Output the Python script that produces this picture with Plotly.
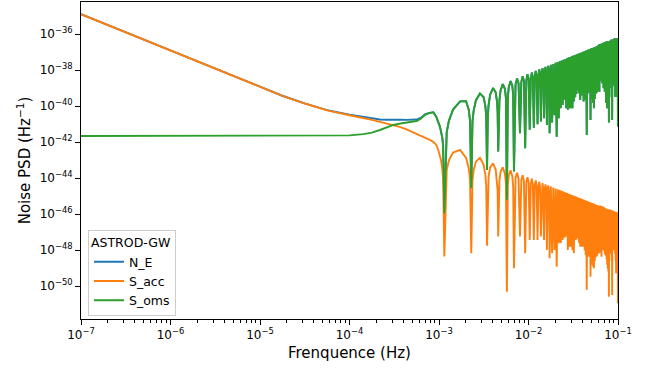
import numpy as np
import plotly.graph_objects as go

# ---------------- data (PSD stored as log10 exponents) ----------------
# smooth low-frequency part (Hz)
low_freq = [1e-7, 3.162e-7, 1e-6, 3.162e-6, 1e-5, 1.778e-5, 3.162e-5, 5.623e-5, 1e-4, 1.426e-4,
            1.778e-4, 2.188e-4, 2.630e-4, 3.090e-4, 3.715e-4, 4.345e-4, 5.012e-4, 5.623e-4, 6.310e-4, 6.966e-4,
            7.762e-4, 8.630e-4, 9.333e-4, 9.817e-4, 1.023e-3, 1.052e-3, 1.089e-3, 1.112e-3]
low_acc = [-34.89, -35.89, -36.89, -37.90, -38.93, -39.42, -39.85, -40.23, -40.50, -40.64,
           -40.76, -40.87, -40.96, -41.04, -41.16, -41.28, -41.41, -41.52, -41.63, -41.73,
           -41.85, -41.98, -42.15, -42.43, -42.75, -42.98, -43.50, -44.07]
low_oms = [-41.65, -41.65, -41.65, -41.65, -41.65, -41.65, -41.65, -41.645, -41.62, -41.55,
           -41.47, -41.32, -41.18, -41.04, -40.96, -40.91, -40.87, -40.82, -40.68, -40.48,
           -40.38, -40.34, -40.60, -40.85, -41.13, -41.40, -41.75, -42.20]

# frequencies of the response notches (mHz)
dip_freq_mhz = [1.147, 2.294, 3.441, 4.588, 5.735, 6.882, 8.029, 9.176, 10.32, 11.47,
                12.62, 13.76, 14.91, 16.06, 17.21, 18.35, 19.50, 20.65, 21.79, 22.94,
                24.09, 25.23, 26.38, 27.53, 28.68, 29.82, 30.97, 32.12, 33.26, 34.41,
                35.56, 36.70, 37.85, 39.00, 40.15, 41.29, 42.44, 43.59, 44.73, 45.88,
                47.03, 48.17, 49.32, 50.47, 51.62, 52.76, 53.91, 55.06, 56.20, 57.35,
                58.50, 59.64, 60.79, 61.94, 63.09, 64.23, 65.38, 66.53, 67.67, 68.82,
                69.97, 71.11, 72.26, 73.41, 74.56, 75.70, 76.85, 78.00, 79.14, 80.29,
                81.44, 82.58, 83.73, 84.88, 86.03, 87.17, 88.32, 89.47, 90.61, 91.76,
                92.91, 94.05, 95.20, 96.35, 97.50, 98.64, 99.79]
dip_oms = [-45.95, -44.56, -43.54, -42.52, -45.20, -43.63, -41.50, -42.34, -41.30, -41.20,
           -41.00, -40.85, -40.67, -41.04, -41.50, -40.90, -40.50, -41.69, -40.67, -40.11,
           -39.93, -39.65, -40.11, -40.20, -40.11, -40.11, -40.11, -39.74, -39.50, -39.30,
           -39.09, -39.28, -39.65, -39.40, -39.28, -39.74, -39.50, -39.65, -41.60, -39.30,
           -39.20, -39.00, -40.76, -39.60, -39.47, -39.80, -40.11, -39.60, -39.30, -39.28,
           -39.20, -39.10, -39.00, -39.19, -38.60, -38.44, -38.60, -38.72, -38.80, -39.00,
           -39.10, -39.19, -39.50, -39.80, -40.00, -40.11, -39.60, -39.30, -40.90, -39.00,
           -38.50, -38.17, -38.50, -39.50, -40.76, -38.80, -38.20, -37.80, -38.30, -38.90,
           -39.47, -39.20, -39.47, -38.80, -38.50, -38.00, -41.13]
dip_acc = [-48.35, -48.16, -47.75, -47.24, -50.30, -49.00, -47.24, -48.17, -47.43, -47.43,
           -47.43, -47.24, -47.43, -47.98, -48.45, -48.17, -47.98, -48.91, -47.61, -47.60,
           -47.43, -47.30, -47.24, -47.98, -47.80, -47.80, -48.00, -48.17, -47.43, -47.40,
           -47.33, -47.60, -47.80, -47.80, -47.80, -47.80, -48.00, -48.26, -50.20, -48.30,
           -48.36, -48.36, -49.47, -48.60, -48.80, -48.90, -49.00, -48.60, -48.40, -48.36,
           -48.30, -48.20, -48.10, -48.17, -48.10, -48.00, -48.36, -48.20, -48.00, -47.98,
           -48.00, -48.20, -48.26, -48.30, -48.50, -48.80, -49.00, -49.20, -50.58, -48.50,
           -48.20, -47.98, -48.20, -48.60, -50.48, -48.50, -48.00, -47.80, -47.60, -47.61,
           -48.20, -48.60, -49.28, -48.60, -48.50, -48.00, -50.94]

# hump maxima between notches (mHz)
peak_freq_mhz = [1.721, 2.868, 4.015, 5.162, 6.309, 7.456, 8.603, 9.750, 10.90, 12.04,
                 13.19, 14.34, 15.48, 16.63, 17.78, 18.93, 20.07, 21.22, 22.37, 23.51,
                 24.66, 25.81, 26.95, 28.10, 29.25, 30.40, 31.54, 32.69, 33.84, 34.98,
                 36.13, 37.28, 38.42, 39.57, 40.72, 41.87, 43.01, 44.16, 45.31, 46.45,
                 47.60, 48.75, 49.89, 51.04, 52.19, 53.34, 54.48, 55.63, 56.78, 57.92,
                 59.07, 60.22, 61.36, 62.51, 63.66, 64.81, 65.95, 67.10, 68.25, 69.39,
                 70.54, 71.69, 72.83, 73.98, 75.13, 76.28, 77.42, 78.57, 79.72, 80.86,
                 82.01, 83.16, 84.30, 85.45, 86.60, 87.75, 88.89, 90.04, 91.19, 92.33,
                 93.48, 94.63, 95.77, 96.92, 98.07, 99.22]
peak_oms = [-39.73, -39.29, -38.99, -38.77, -38.60, -38.46, -38.33, -38.22, -38.13, -38.04,
            -37.96, -37.89, -37.82, -37.76, -37.70, -37.65, -37.59, -37.55, -37.50, -37.46,
            -37.42, -37.38, -37.34, -37.30, -37.27, -37.23, -37.20, -37.17, -37.14, -37.11,
            -37.08, -37.06, -37.03, -37.01, -36.98, -36.96, -36.93, -36.91, -36.89, -36.87,
            -36.84, -36.82, -36.80, -36.78, -36.76, -36.75, -36.73, -36.71, -36.69, -36.67,
            -36.66, -36.64, -36.62, -36.61, -36.59, -36.58, -36.56, -36.55, -36.53, -36.52,
            -36.50, -36.49, -36.48, -36.46, -36.45, -36.44, -36.42, -36.41, -36.40, -36.38,
            -36.37, -36.36, -36.35, -36.34, -36.32, -36.31, -36.30, -36.29, -36.28, -36.27,
            -36.26, -36.25, -36.24, -36.23, -36.22, -36.21]
peak_acc = [-42.43, -42.87, -43.17, -43.39, -43.56, -43.70, -43.83, -43.94, -44.03, -44.12,
            -44.20, -44.27, -44.34, -44.40, -44.46, -44.51, -44.57, -44.61, -44.66, -44.70,
            -44.74, -44.78, -44.82, -44.86, -44.89, -44.93, -44.96, -44.99, -45.02, -45.05,
            -45.08, -45.10, -45.13, -45.15, -45.18, -45.20, -45.23, -45.25, -45.27, -45.29,
            -45.32, -45.34, -45.36, -45.38, -45.40, -45.41, -45.43, -45.45, -45.47, -45.49,
            -45.50, -45.52, -45.54, -45.55, -45.57, -45.58, -45.60, -45.61, -45.63, -45.64,
            -45.66, -45.67, -45.68, -45.70, -45.71, -45.72, -45.74, -45.75, -45.76, -45.78,
            -45.79, -45.80, -45.81, -45.82, -45.84, -45.85, -45.86, -45.87, -45.88, -45.89,
            -45.90, -45.91, -45.92, -45.93, -45.94, -45.95]

# hump shoulders (mHz)
shoulder_freq_mhz = [1.219, 1.290, 1.434, 2.007, 2.151, 2.222,
                     2.366, 2.437, 2.581, 3.154, 3.298, 3.369,
                     3.513, 3.584, 3.728, 4.302, 4.445, 4.517,
                     4.731, 4.875, 5.449, 5.592,
                     5.878, 6.022, 6.595, 6.739,
                     7.169, 7.743, 8.316, 8.890, 9.463, 10.04, 10.61, 11.18,
                     11.76, 12.33, 12.90, 13.48, 14.05, 14.62, 15.20, 15.77, 16.34, 16.92]
shoulder_oms = [-41.45, -40.81, -40.19, -39.72, -40.20, -40.80,
                -40.87, -40.26, -39.68, -39.50, -39.99, -40.57,
                -40.53, -39.92, -39.36, -39.23, -39.73, -40.31,
                -39.68, -39.12, -39.03, -39.53,
                -39.49, -38.94, -38.86, -39.37,
                -38.79, -38.72, -38.66, -38.60, -38.55, -38.50, -38.45, -38.40,
                -38.36, -38.32, -38.28, -38.24, -38.20, -38.17, -38.14, -38.10, -38.07, -38.04]
shoulder_acc = [-43.55, -43.01, -42.57, -42.87, -43.46, -44.07,
                -44.13, -43.56, -43.08, -43.26, -43.83, -44.43,
                -44.47, -43.90, -43.40, -43.53, -44.09, -44.69,
                -44.14, -43.64, -43.73, -44.29,
                -44.33, -43.82, -43.90, -44.45,
                -43.97, -44.04, -44.10, -44.16, -44.21, -44.26, -44.31, -44.36,
                -44.40, -44.44, -44.48, -44.52, -44.56, -44.59, -44.62, -44.66, -44.69, -44.72]

# ---------------- assemble series ----------------
freq = np.concatenate([np.array(low_freq),
                       np.array(dip_freq_mhz) * 1e-3,
                       np.array(peak_freq_mhz) * 1e-3,
                       np.array(shoulder_freq_mhz) * 1e-3])
acc_log = np.concatenate([low_acc, dip_acc, peak_acc, shoulder_acc])
oms_log = np.concatenate([low_oms, dip_oms, peak_oms, shoulder_oms])
order = np.argsort(freq)
freq = freq[order]
s_acc = 10.0 ** acc_log[order]
s_oms = 10.0 ** oms_log[order]
n_e = s_acc + s_oms  # total noise = acceleration + optical metrology

# ---------------- figure ----------------
FONT = "DejaVu Sans"
fig = go.Figure()
for name, y, color in [("N_E", n_e, "#1f77b4"), ("S_acc", s_acc, "#ff7f0e"), ("S_oms", s_oms, "#2ca02c")]:
    fig.add_trace(go.Scatter(x=freq, y=y, mode="lines", name=name,
                             line=dict(color=color, width=1.9)))

x_major = [10.0 ** e for e in range(-7, 0)]
x_text = ["10<sup>\u2212%d</sup>" % (-e) for e in range(-7, 0)]
x_minor = [k * 10.0 ** e for e in range(-7, -1) for k in range(2, 10)]
y_major = [10.0 ** e for e in range(-36, -51, -2)]
y_text = ["10<sup>\u2212%d</sup>" % (-e) for e in range(-36, -51, -2)]

axis_common = dict(type="log", showgrid=False, zeroline=False, showline=True, linecolor="black",
                   linewidth=1, mirror=True, ticks="outside", ticklen=5, tickwidth=1, tickcolor="black",
                   tickfont=dict(family=FONT, size=12, color="black"))

fig.update_layout(
    width=663, height=371,
    margin=dict(l=81, r=45, t=2, b=52),
    paper_bgcolor="white", plot_bgcolor="white",
    font=dict(family=FONT, size=12, color="black"),
    xaxis=dict(range=[-7, -1], tickmode="array", tickvals=x_major, ticktext=x_text,
               title=dict(text="Frenquence (Hz)", font=dict(family=FONT, size=15), standoff=6),
               minor=dict(tickmode="array", tickvals=x_minor, ticks="outside", ticklen=3,
                          tickwidth=1, tickcolor="black", showgrid=False),
               **axis_common),
    yaxis=dict(range=[-51.82, -34.21], tickmode="array", tickvals=y_major, ticktext=y_text,
               title=dict(text="Noise PSD (Hz<sup>\u22121</sup>)", font=dict(family=FONT, size=15), standoff=5),
               **axis_common),
    legend=dict(title=dict(text="ASTROD-GW", font=dict(family=FONT, size=12.5)),
                x=0.013, y=0.01, xanchor="left", yanchor="bottom",
                bgcolor="rgba(255,255,255,0.85)", bordercolor="#cccccc", borderwidth=1,
                font=dict(family=FONT, size=12.5), tracegroupgap=0, itemwidth=30),
    showlegend=True,
)

fig.write_html("out.html")
